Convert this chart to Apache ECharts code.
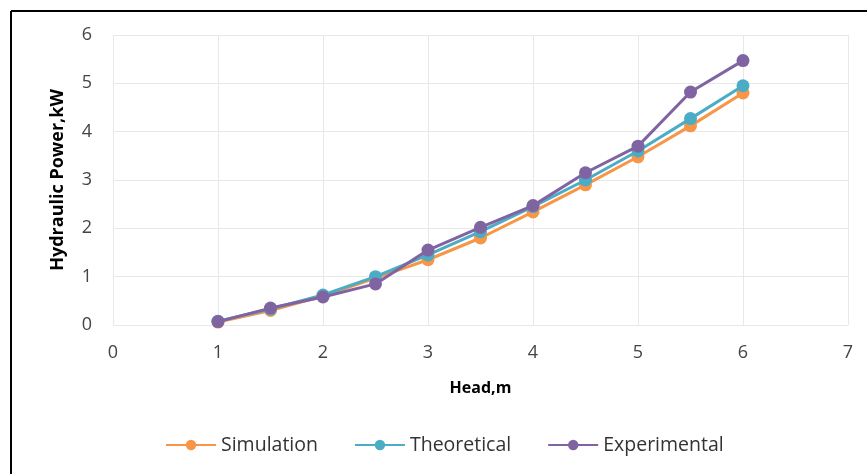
<!DOCTYPE html>
<html><head><meta charset="utf-8">
<script src="https://cdn.jsdelivr.net/npm/echarts@6/dist/echarts.min.js"></script>
<style>html,body{margin:0;padding:0;background:#fff}#c{width:867px;height:474px}</style>
</head><body><div id="c"></div>
<script>
const heads = [1, 1.5, 2, 2.5, 3, 3.5, 4, 4.5, 5, 5.5, 6];
const simulation = [0.06, 0.30, 0.60, 0.97, 1.35, 1.80, 2.34, 2.90, 3.48, 4.12, 4.80];
const theoretical = [0.08, 0.33, 0.62, 1.00, 1.45, 1.93, 2.45, 3.00, 3.60, 4.27, 4.95];
const experimental = [0.07, 0.35, 0.58, 0.85, 1.55, 2.02, 2.47, 3.15, 3.70, 4.82, 5.47];
const seriesNames = ['Simulation', 'Theoretical', 'Experimental'];
const colors = ['#F79646', '#4BACC6', '#8064A2'];
const font = 'Open Sans';
const mk = (name, vals, i) => ({
  name, type: 'line', data: heads.map((h, k) => [h, vals[k]]),
  symbol: 'circle', symbolSize: 13, z: 2 + i,
  lineStyle: {width: 3, color: colors[i]}, itemStyle: {color: colors[i]}
});
const chart = echarts.init(document.getElementById('c'));
chart.setOption({
  animation: false,
  textStyle: {fontFamily: font},
  grid: {left: 113, right: 19, top: 35, bottom: 149},
  legend: {bottom: 14, left: 160, itemWidth: 50, itemHeight: 13, itemGap: 36,
    textStyle: {fontSize: 19.5, color: '#333', fontFamily: font},
    data: seriesNames},
  xAxis: {type: 'value', min: 0, max: 7, interval: 1,
    name: 'Head,m', nameLocation: 'middle', nameGap: 55,
    nameTextStyle: {fontWeight: 'bold', fontSize: 16, color: '#000'},
    axisLine: {show: false}, axisTick: {show: false},
    axisLabel: {fontSize: 18, color: '#444', margin: 19},
    splitLine: {lineStyle: {color: '#e8e8e8'}}},
  yAxis: {type: 'value', min: 0, max: 6, interval: 1,
    name: 'Hydraulic Power,kW', nameLocation: 'middle', nameGap: 46,
    nameTextStyle: {fontWeight: 'bold', fontSize: 18, color: '#000'},
    axisLine: {show: false}, axisTick: {show: false},
    axisLabel: {fontSize: 18, color: '#444', margin: 21},
    splitLine: {lineStyle: {color: '#e8e8e8'}}},
  graphic: [
    {type: 'line', shape: {x1: 11, y1: 11, x2: 867, y2: 11}, style: {stroke: '#000', lineWidth: 2}},
    {type: 'line', shape: {x1: 11, y1: 11, x2: 11, y2: 474}, style: {stroke: '#000', lineWidth: 2}}
  ],
  series: [mk(seriesNames[0], simulation, 0), mk(seriesNames[1], theoretical, 1), mk(seriesNames[2], experimental, 2)]
});
</script></body></html>
